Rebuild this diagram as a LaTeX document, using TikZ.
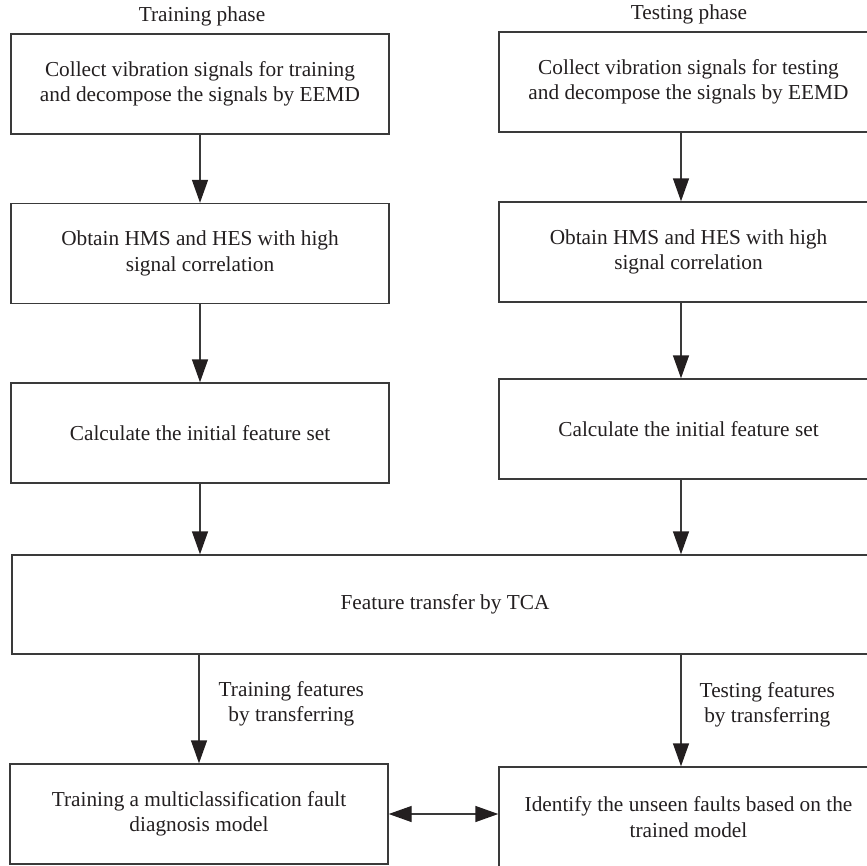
\documentclass[tikz,border=0pt]{standalone}
\usepackage{fontspec}
\setmainfont{Liberation Serif}
\usetikzlibrary{arrows.meta,calc}
\definecolor{ln}{HTML}{3A3A3A}
\definecolor{tx}{HTML}{231F20}
\tikzset{
  box/.style={draw=ln, line width=1.4pt, minimum width=378pt, minimum height=100pt, align=center, text=tx, inner sep=0pt, font=\fontsize{21.3}{25.5}\selectfont},
  lbl/.style={align=center, text=tx, inner sep=0pt, font=\fontsize{21.3}{25.5}\selectfont},
  tip/.style={Triangle[length=23pt,width=16pt,fill=tx,color=tx]},
  arr/.style={draw=ln, line width=1.4pt, -{Triangle[length=23pt,width=16pt,color=tx]}},
  darr/.style={draw=ln, line width=1.4pt, {Triangle[length=23pt,width=16pt,color=tx]}-{Triangle[length=23pt,width=16pt,color=tx]}}
}
\begin{document}
\begin{tikzpicture}[x=1pt,y=-1pt]
\useasboundingbox (0,0) rectangle (867,865);
\node[lbl] (th) at (202,16) {Training phase};
\node[lbl] (tt) at (689,14) {Testing phase};
\node[box] (l1) at (200,84) {Collect vibration signals for training\\and decompose the signals by EEMD};
\node[box] (l2) at (200,253.5) {Obtain HMS and HES with high\\signal correlation};
\node[box] (l3) at (200,433) {Calculate the initial feature set};
\node[box, minimum width=379pt] (r1) at (688.5,82) {Collect vibration signals for testing\\and decompose the signals by EEMD};
\node[box, minimum width=379pt] (r2) at (688.5,252) {Obtain HMS and HES with high\\signal correlation};
\node[box, minimum width=379pt] (r3) at (688.5,429) {Calculate the initial feature set};
\node[box, minimum width=866pt, minimum height=99pt] (ft) at (445,604.5) {Feature transfer by TCA};
\node[box] (bl) at (199,814) {Training a multiclassification fault\\diagnosis model};
\node[box, minimum width=379pt] (br) at (688.5,817) {Identify the unseen faults based on the\\trained model};
\draw[arr] (l1.south) -- (l2.north);
\draw[arr] (l2.south) -- (l3.north);
\draw[arr] (l3.south) -- (l3.south |- ft.north);
\draw[arr] ([xshift=-7.5pt]r1.south) -- ([xshift=-7.5pt]r2.north);
\draw[arr] ([xshift=-7.5pt]r2.south) -- ([xshift=-7.5pt]r3.north);
\draw[arr] ([xshift=-7.5pt]r3.south) -- ([xshift=-7.5pt]r3.south |- ft.north);
\draw[arr] (bl.north |- ft.south) -- (bl.north) node[lbl, pos=0.45, right=19pt] (lt) {Training features\\by transferring};
\draw[arr] ([xshift=-7.5pt]br.north |- ft.south) -- ([xshift=-7.5pt]br.north) node[lbl, pos=0.45, right=18pt] (rt) {Testing features\\by transferring};
\draw[darr] (bl.east) -- (bl.east -| br.west);
\end{tikzpicture}
\end{document}
